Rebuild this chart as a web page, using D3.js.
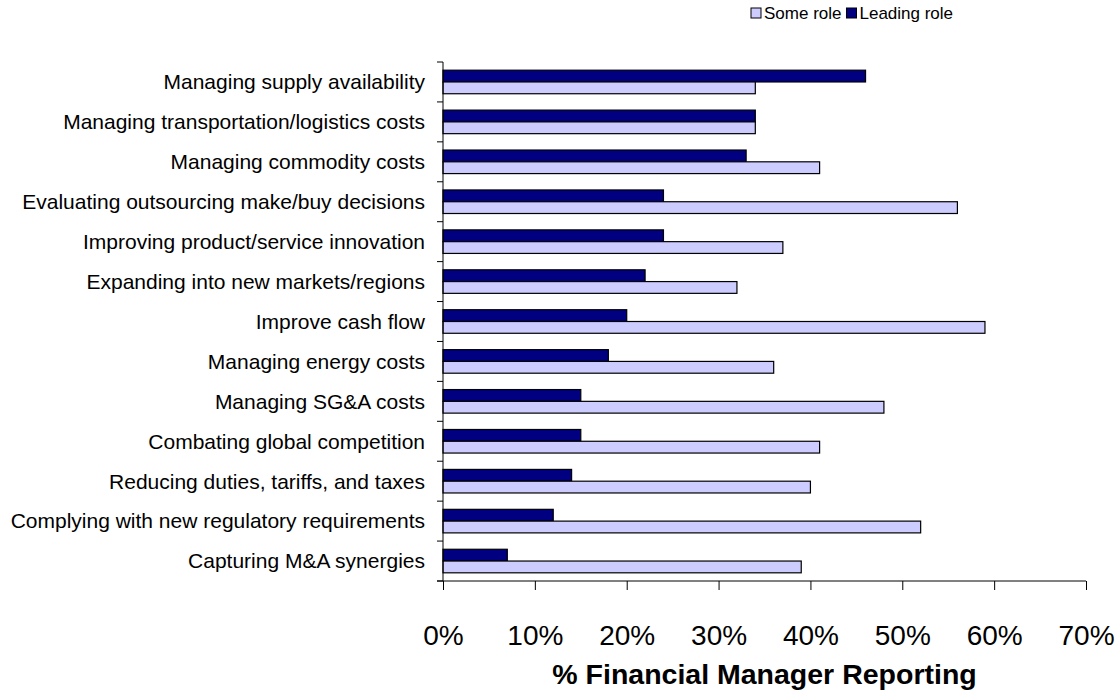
<!DOCTYPE html>
<html>
<head>
<meta charset="utf-8">
<script src="https://cdn.jsdelivr.net/npm/d3@7"></script>
<style>
  body { margin: 0; background: #fff; }
  svg { display: block; font-family: "Liberation Sans", Arial, sans-serif; }
</style>
</head>
<body>
<svg id="chart" width="1117" height="692"></svg>
<script>
// chart data, top row first
const categories = [
  'Managing supply availability',
  'Managing transportation/logistics costs',
  'Managing commodity costs',
  'Evaluating outsourcing make/buy decisions',
  'Improving product/service innovation',
  'Expanding into new markets/regions',
  'Improve cash flow',
  'Managing energy costs',
  'Managing SG&A costs',
  'Combating global competition',
  'Reducing duties, tariffs, and taxes',
  'Complying with new regulatory requirements',
  'Capturing M&A synergies'
];
const leadingRole = [46, 34, 33, 24, 24, 22, 20, 18, 15, 15, 14, 12, 7];
const someRole = [34, 34, 41, 56, 37, 32, 59, 36, 48, 41, 40, 52, 39];
const seriesNames = ['Some role', 'Leading role'];
const xTicks = [0, 10, 20, 30, 40, 50, 60, 70];

const colors = { 'Some role': '#ccccff', 'Leading role': '#000080' };

const svg = d3.select('#chart');
const plotLeft = 443, plotRight = 1086, plotTop = 62, plotBottom = 581;

// scales
const x = d3.scaleLinear().domain([0, 70]).range([plotLeft, plotRight]);
const y = d3.scaleBand().domain(categories).range([plotTop, plotBottom])
  .paddingInner(0.41).paddingOuter(0.205);
const ySub = d3.scaleBand().domain(['Leading role', 'Some role']).range([0, y.bandwidth()]);

const rows = categories.map((c, i) => ({ cat: c, 'Leading role': leadingRole[i], 'Some role': someRole[i] }));

// bars
const groups = svg.append('g').selectAll('g')
  .data(rows)
  .enter()
  .append('g')
  .attr('transform', d => `translate(0,${y(d.cat)})`);

groups.selectAll('rect')
  .data(d => ['Leading role', 'Some role'].map(k => ({ key: k, value: d[k] })))
  .enter()
  .append('rect')
  .attr('x', x(0))
  .attr('y', d => ySub(d.key))
  .attr('width', d => x(d.value) - x(0))
  .attr('height', ySub.bandwidth())
  .attr('fill', d => colors[d.key])
  .attr('stroke', '#000')
  .attr('stroke-width', 1.2);

// y axis: line, tick marks at band edges, labels
const yAxisG = svg.append('g');
yAxisG.append('line')
  .attr('x1', plotLeft).attr('x2', plotLeft)
  .attr('y1', plotTop).attr('y2', plotBottom)
  .attr('stroke', '#000');
const edges = d3.range(categories.length + 1).map(i => plotTop + i * y.step());
yAxisG.selectAll('.ytick')
  .data(edges)
  .enter()
  .append('line')
  .attr('x1', plotLeft - 6).attr('x2', plotLeft)
  .attr('y1', d => d).attr('y2', d => d)
  .attr('stroke', '#000');
yAxisG.selectAll('.ylabel')
  .data(categories)
  .enter()
  .append('text')
  .attr('x', 425)
  .attr('y', d => y(d) + y.bandwidth() / 2)
  .attr('dy', '0.35em')
  .attr('text-anchor', 'end')
  .style('font-size', '21px')
  .text(d => d);

// x axis
const xAxis = d3.axisBottom(x)
  .tickValues(xTicks)
  .tickSize(9)
  .tickPadding(0)
  .tickFormat(d => d + '%');
const xAxisG = svg.append('g')
  .attr('transform', `translate(0,${plotBottom})`)
  .call(xAxis);
xAxisG.select('.domain').attr('d', `M${plotLeft - 6},0H${plotRight}`).attr('stroke', '#000');
xAxisG.selectAll('.tick line').attr('stroke', '#000');
xAxisG.selectAll('.tick text')
  .attr('y', 64)
  .attr('dy', 0)
  .style('font-size', '28px')
  .style('font-family', '"Liberation Sans", Arial, sans-serif')
  .attr('fill', '#000');

// axis title
svg.append('text')
  .attr('x', (plotLeft + plotRight) / 2)
  .attr('y', 684)
  .attr('text-anchor', 'middle')
  .style('font-size', '28.5px')
  .style('font-weight', 'bold')
  .text('% Financial Manager Reporting');

// legend
const legend = svg.append('g').attr('transform', 'translate(751,13)');
let lx = 0;
seriesNames.forEach(name => {
  legend.append('rect')
    .attr('x', lx).attr('y', -5)
    .attr('width', 10).attr('height', 10)
    .attr('fill', colors[name])
    .attr('stroke', '#000');
  const t = legend.append('text')
    .attr('x', lx + 13).attr('y', 0)
    .attr('dy', '0.35em')
    .style('font-size', '17px')
    .text(name);
  lx += 13 + t.node().getComputedTextLength() + 5;
});
</script>
</body>
</html>
